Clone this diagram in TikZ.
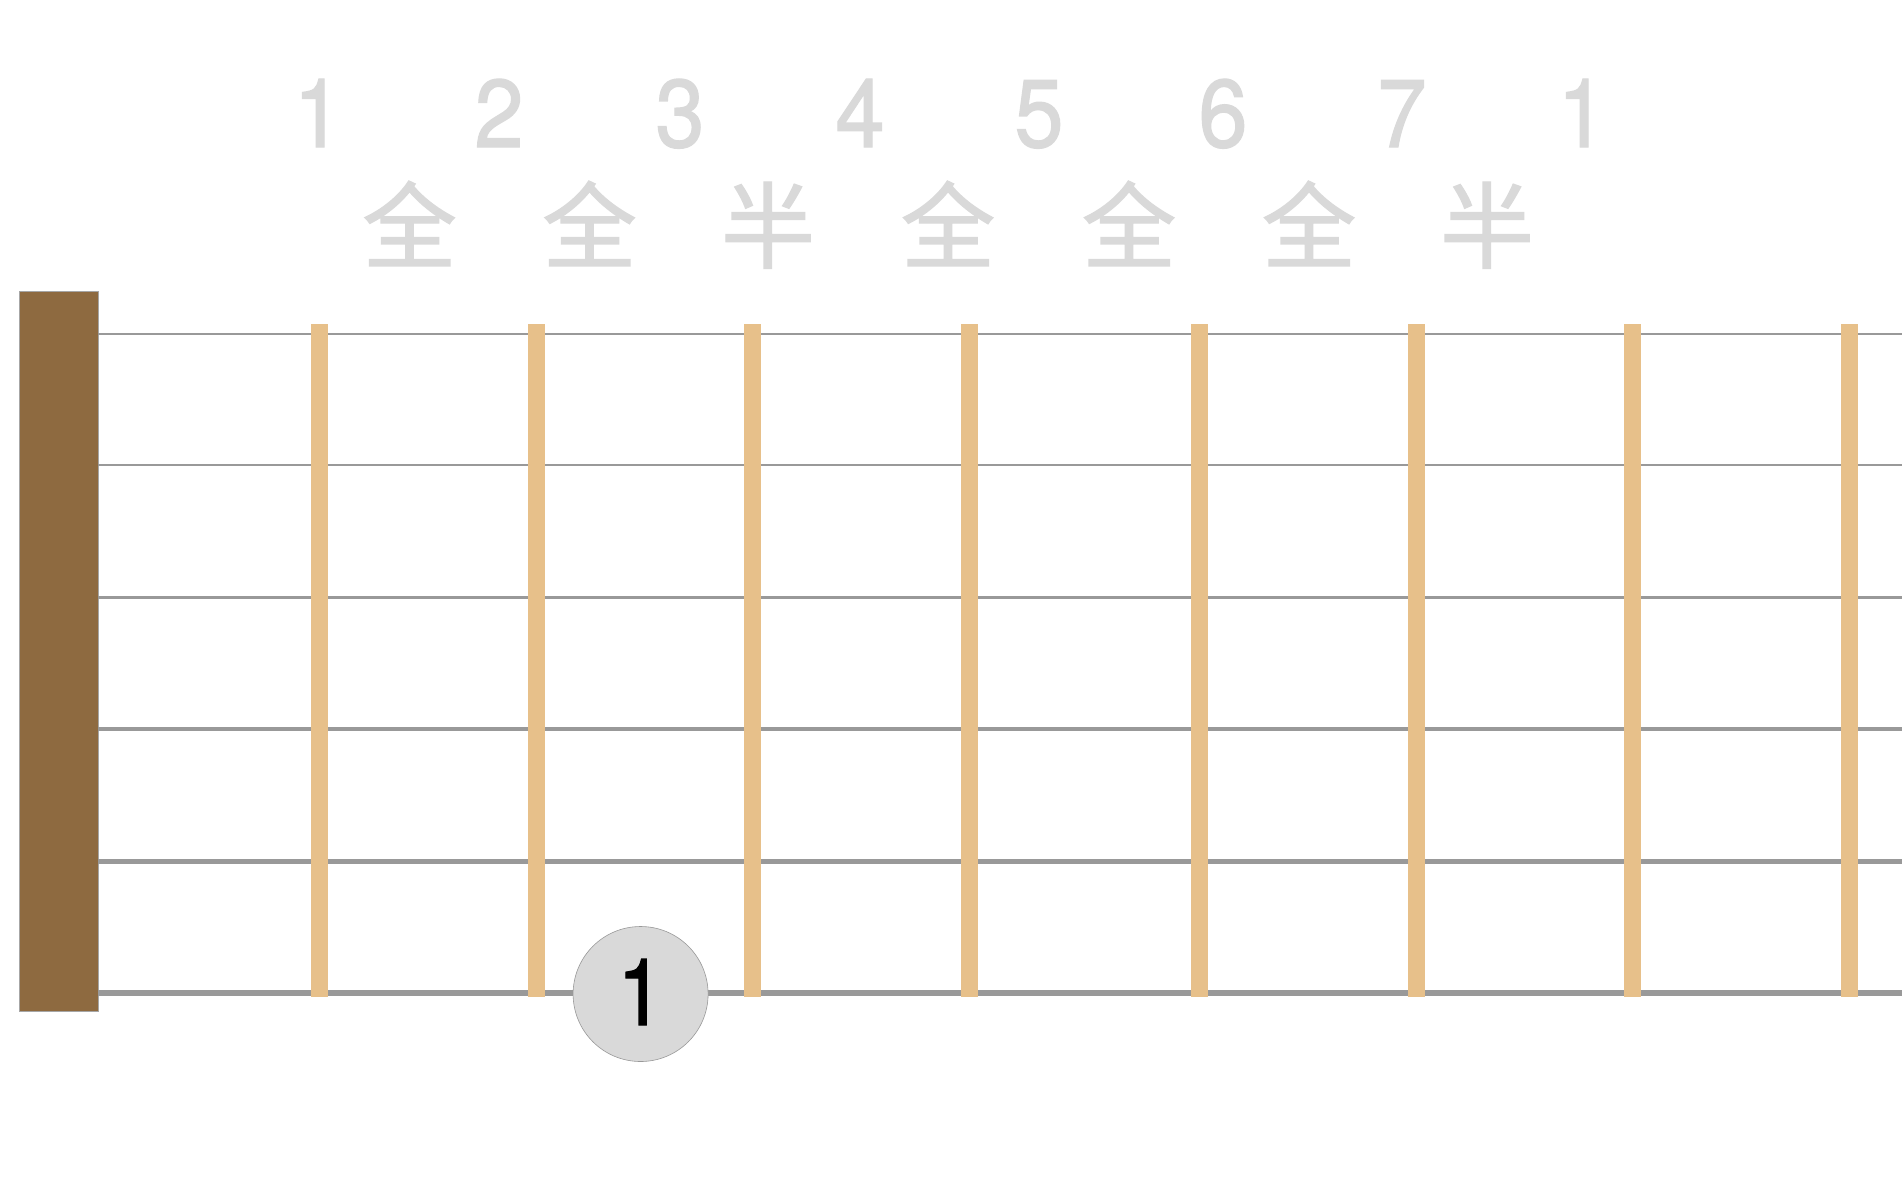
\documentclass[tikz,border=0pt]{standalone}
\usepackage{graphicx}
\usepackage{fontspec}
\setmainfont[FakeBold=1.4]{TeX Gyre Heros}
\newfontfamily\cjkfont[FakeBold=1.5]{Noto Sans CJK SC}
\definecolor{labelgray}{RGB}{217,217,217}
\definecolor{stringgray}{RGB}{153,153,153}
\definecolor{fretcol}{RGB}{231,192,138}
\definecolor{nutcol}{RGB}{142,106,64}
\definecolor{dotfill}{RGB}{217,217,217}
\tikzset{
  numlabel/.style={inner sep=0pt, anchor=base, text=labelgray, font=\fontsize{96bp}{96bp}\selectfont},
  steplabel/.style={inner sep=0pt, anchor=base, text=labelgray, font=\cjkfont\fontsize{94bp}{94bp}\selectfont},
  fretbar/.style={fill=fretcol, draw=none},
  nutbar/.style={fill=nutcol, draw=gray!70, line width=0.8bp},
  fingerdot/.style={circle, fill=dotfill, draw=stringgray, line width=0.6bp, minimum size=135bp, inner sep=0pt}
}
\begin{document}
\begin{tikzpicture}[x=1bp,y=-1bp]
\useasboundingbox[fill=white] (0,0) rectangle (1902,1200);
% nut
\draw[nutbar] (19.4,291) rectangle (98.3,1011);
% strings
\foreach \yy/\ww [count=\i] in {334/1.3, 465/2, 597/3, 729/4, 861/5, 993/6}
  \draw[stringgray, line width=\ww bp] (98.3,\yy) -- (1902,\yy);
% frets
\foreach \xx [count=\i] in {319.6, 536, 752.7, 969, 1199.6, 1416, 1632.6, 1849}
  \fill[fretbar] (\xx-8.5,324) rectangle (\xx+8.5,997);
% scale degree numbers
\foreach \xx/\t [count=\i] in {318/1, 499/2, 680/3, 860/4, 1039/5, 1223/6, 1402/7, 1582/1}
  \node[numlabel] (num\i) at (\xx,147) {\scalebox{0.92}[1]{\t}};
% whole / half steps
\foreach \xx/\t [count=\i] in {409.5/全, 589.5/全, 768/半, 948/全, 1129/全, 1309/全, 1487/半}
  \node[steplabel] (step\i) at (\xx,261) {\t};
% finger dot
\node[fingerdot] (dot) at (640.6,994) {};
\node[inner sep=0pt, anchor=base, font=\fontsize{93bp}{93bp}\selectfont] (dotlabel) at (640.6,1025) {\scalebox{0.9}[1]{1}};
\end{tikzpicture}
\end{document}
